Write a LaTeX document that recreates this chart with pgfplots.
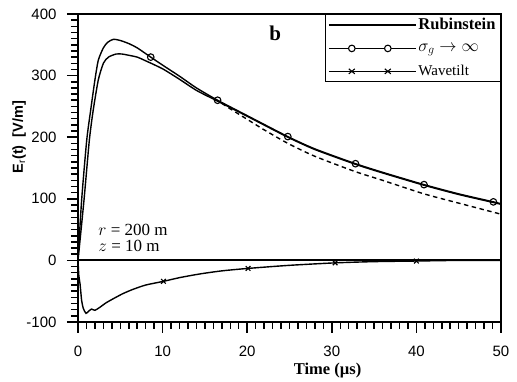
\documentclass[border=0pt]{standalone}
\usepackage{fontspec}
\setmainfont{Liberation Serif}
\setsansfont{Liberation Sans}
\usepackage{pgfplots}
\pgfplotsset{compat=1.18}
\begin{document}
\begin{tikzpicture}
\begin{axis}[
  name=ax,
  scale only axis, width=423pt, height=308pt,
  xmin=0, xmax=50, ymin=-100, ymax=400,
  xtick={0,10,...,50}, ytick={-100,0,...,400},
  minor x tick num=9, minor y tick num=9,
  tick pos=left, tick align=outside,
  major tick length=11pt, minor tick length=7pt,
  tick style={black, line width=1.5pt},
  axis line style={line width=1.1pt},
  /pgf/number format/assume math mode=true,
  tick label style={font=\sffamily\fontsize{15}{15}\selectfont},
  yticklabel style={xshift=-7pt},
  xticklabel style={yshift=-9pt},
  xlabel={\bfseries\fontsize{16.5}{16.5}\selectfont Time (µs)},
  every axis x label/.style={at={(axis description cs:0.59,0)}, anchor=north, yshift=-38pt},
  ylabel={\sffamily\bfseries\fontsize{14.5}{14.5}\selectfont E$_{\mathsf{r}}$(t)\ \ [V/m]},
  every axis y label/.style={at={(axis description cs:-0.139,0.6)}, rotate=90, anchor=center},
  legend style={at={(axis description cs:1,1)}, anchor=north east, draw=black, line width=1pt,
    inner xsep=3pt, inner ysep=2pt, row sep=8.5pt, cells={anchor=west},
    font=\bfseries\fontsize{16.5}{16.5}\selectfont},
]
% zero line
\addplot[black, line width=2pt, forget plot] coordinates {(0,0) (50,0)};
% Rubinstein (solid)
\addplot[black, line width=1.4pt, smooth, tension=0.4,
  legend image code/.code={\draw[black, line width=1.3pt] (0pt,0pt) -- (87pt,0pt);}]
  coordinates {(0,0) (0.71,98) (1.34,195) (1.8,244) (2.4,293) (3.0,320) (3.6,330) (4.5,335) (5.2,335) (6,333) (7,330) (8,324) (10,311) (12,294) (14,276) (16,262) (17,255) (20,234) (24.8,200) (28,180) (32.8,156) (36,142) (40.9,122) (45,107) (49.1,94) (50,91)};
\addlegendentry{Rubinstein}
% sigma_g -> infinity
\addplot[black, line width=1.4pt, smooth, tension=0.4, mark=o, mark size=3.3pt,
  mark options={fill=white, line width=1.1pt, solid}, mark indices={13,17,19,21,23,25},
  legend image code/.code={\draw[black, line width=1.3pt] (0pt,0pt) -- (87pt,0pt);
    \draw[black, line width=1.1pt, fill=white] (23pt,0pt) circle (3.3pt);
    \draw[black, line width=1.1pt, fill=white] (59pt,0pt) circle (3.3pt);}]
  coordinates {(0,0) (0.43,98) (1.03,195) (1.5,244) (2.0,293) (2.4,325) (3.0,345) (3.5,354) (4.2,359) (5,357) (6,352) (7,345) (8.6,330) (10,317) (12,299) (14,280) (16.5,260) (20,235) (24.8,201) (28,181) (32.8,157) (36,143) (40.9,123) (45,108) (49.1,95) (50,92)};
\addlegendentry{$\sigma_g\rightarrow\infty$}
% Wavetilt
\addplot[black, line width=1.4pt, smooth, tension=0.4, mark=x, mark size=3.3pt,
  mark options={line width=1.2pt, solid}, mark indices={16,20,22,24},
  legend image code/.code={\draw[black, line width=1.3pt] (0pt,0pt) -- (87pt,0pt);
    \draw[black, line width=1.1pt] (20pt,-2.5pt) -- (26pt,2.5pt) (20pt,2.5pt) -- (26pt,-2.5pt);
    \draw[black, line width=1.1pt] (56pt,-2.5pt) -- (62pt,2.5pt) (56pt,2.5pt) -- (62pt,-2.5pt);}]
  coordinates {(0,0) (0.1,-25) (0.24,-38) (0.43,-65) (0.63,-78) (0.95,-86) (1.3,-82) (1.6,-79) (2.0,-81) (2.6,-76) (3.3,-69) (4.2,-62) (5.3,-54) (6.5,-47) (8,-40) (10.1,-34) (12,-28) (14.4,-22) (17,-17) (20.1,-13) (25,-8) (30.4,-4) (35,-2) (40,-1) (45,0) (50,0)};
\addlegendentry{\mdseries\fontsize{15}{15}\selectfont Wavetilt}
% dashed curve
\addplot[black, line width=1.4pt, smooth, tension=0.4, dash pattern=on 4.5pt off 3.5pt, forget plot]
  coordinates {(17,255) (18,246) (20,229) (22,212) (24.8,190) (28,169) (32.8,144) (36,130) (40.9,108) (45,93) (50,75)};
\node[anchor=center, font=\bfseries\fontsize{21}{21}\selectfont] at (axis cs:23.3,369) {b};
\node[anchor=west, font=\fontsize{17}{17}\selectfont] at (axis cs:2.0,50) {$r$ = 200 m};
\node[anchor=west, font=\fontsize{17}{17}\selectfont] at (axis cs:2.0,23) {$z$ = 10 m};
\end{axis}
\path (ax.south west) ++(-78pt,-56pt) (ax.north east) ++(16pt,14pt);
\end{tikzpicture}
\end{document}
